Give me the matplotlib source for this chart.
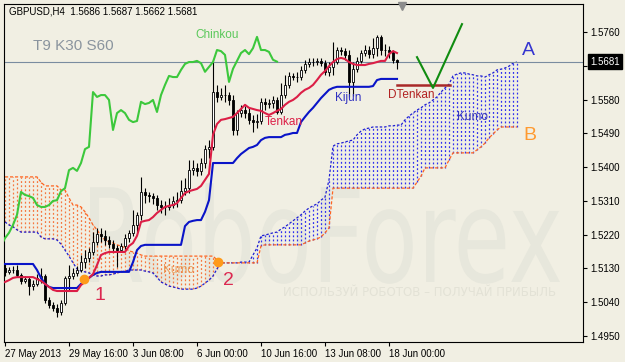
import numpy as np
import matplotlib
matplotlib.use('Agg')
import matplotlib.pyplot as plt
from matplotlib.textpath import TextPath
from matplotlib.patches import PathPatch
from matplotlib.font_manager import FontProperties
from matplotlib.transforms import Affine2D, IdentityTransform, blended_transform_factory

plt.rcParams['font.family'] = ['Liberation Sans', 'DejaVu Sans']

# GBPUSD H4 candles, bar 0 = 27 May 2013 00:00
first_open = 1.5131
closes = [1.5121, 1.5126, 1.5126, 1.5113, 1.5097, 1.5102, 1.5083, 1.5089, 1.5105, 1.5110,
          1.5046, 1.5033, 1.5025, 1.5014, 1.5038, 1.5105, 1.5110, 1.5118, 1.5126, 1.5147,
          1.5158, 1.5174, 1.5201, 1.5222, 1.5217, 1.5206, 1.5195, 1.5185, 1.5179, 1.5190,
          1.5211, 1.5225, 1.5246, 1.5273, 1.5334, 1.5326, 1.5323, 1.5318, 1.5299, 1.5294,
          1.5294, 1.5299, 1.5310, 1.5312, 1.5336, 1.5344, 1.5392, 1.5398, 1.5390, 1.5411,
          1.5448, 1.5454, 1.5600, 1.5587, 1.5592, 1.5592, 1.5579, 1.5499, 1.5544, 1.5552,
          1.5544, 1.5526, 1.5520, 1.5523, 1.5574, 1.5568, 1.5571, 1.5579, 1.5547, 1.5592,
          1.5619, 1.5643, 1.5640, 1.5640, 1.5659, 1.5675, 1.5680, 1.5680, 1.5683, 1.5677,
          1.5654, 1.5667, 1.5680, 1.5712, 1.5709, 1.5699, 1.5627, 1.5662, 1.5683, 1.5704,
          1.5712, 1.5701, 1.5717, 1.5747, 1.5712, 1.5712, 1.5707, 1.5686, 1.5681]
highs = [1.5142, 1.5134, 1.5137, 1.5139, 1.5118, 1.5110, 1.5107, 1.5099, 1.5115, 1.5131,
         1.5115, 1.5054, 1.5041, 1.5035, 1.5046, 1.5110, 1.5139, 1.5131, 1.5137, 1.5166,
         1.5179, 1.5185, 1.5227, 1.5238, 1.5238, 1.5233, 1.5217, 1.5206, 1.5193, 1.5198,
         1.5222, 1.5233, 1.5286, 1.5281, 1.5374, 1.5344, 1.5334, 1.5331, 1.5326, 1.5312,
         1.5310, 1.5318, 1.5323, 1.5334, 1.5366, 1.5371, 1.5419, 1.5419, 1.5411, 1.5424,
         1.5459, 1.5472, 1.5680, 1.5619, 1.5611, 1.5619, 1.5600, 1.5592, 1.5552, 1.5566,
         1.5563, 1.5558, 1.5539, 1.5542, 1.5584, 1.5584, 1.5582, 1.5590, 1.5587, 1.5624,
         1.5646, 1.5653, 1.5651, 1.5653, 1.5669, 1.5685, 1.5691, 1.5691, 1.5691, 1.5691,
         1.5685, 1.5680, 1.5733, 1.5720, 1.5720, 1.5717, 1.5712, 1.5680, 1.5693, 1.5712,
         1.5725, 1.5723, 1.5744, 1.5752, 1.5752, 1.5728, 1.5723, 1.5712, 1.5687]
lows = [1.5110, 1.5115, 1.5118, 1.5107, 1.5089, 1.5091, 1.5059, 1.5073, 1.5083, 1.5091,
        1.5038, 1.5025, 1.5017, 1.5001, 1.5006, 1.5033, 1.5073, 1.5102, 1.5110, 1.5121,
        1.5131, 1.5147, 1.5166, 1.5193, 1.5201, 1.5193, 1.5185, 1.5174, 1.5134, 1.5174,
        1.5182, 1.5201, 1.5217, 1.5227, 1.5259, 1.5304, 1.5307, 1.5302, 1.5286, 1.5278,
        1.5273, 1.5286, 1.5291, 1.5294, 1.5304, 1.5326, 1.5331, 1.5379, 1.5376, 1.5379,
        1.5398, 1.5424, 1.5446, 1.5574, 1.5579, 1.5574, 1.5566, 1.5486, 1.5486, 1.5534,
        1.5531, 1.5515, 1.5494, 1.5504, 1.5515, 1.5552, 1.5558, 1.5558, 1.5542, 1.5542,
        1.5584, 1.5611, 1.5632, 1.5627, 1.5632, 1.5651, 1.5667, 1.5669, 1.5672, 1.5669,
        1.5646, 1.5643, 1.5646, 1.5675, 1.5699, 1.5685, 1.5587, 1.5590, 1.5653, 1.5677,
        1.5696, 1.5691, 1.5691, 1.5696, 1.5699, 1.5696, 1.5691, 1.5677, 1.5662]

tenkan = [1.5094, 1.5099, 1.5105, 1.5107, 1.5107, 1.5107, 1.5107, 1.5107, 1.5102, 1.5097,
          1.5089, 1.5081, 1.5073, 1.5070, 1.5070, 1.5070, 1.5070, 1.5070, 1.5070, 1.5086,
          1.5094, 1.5105, 1.5115, 1.5139, 1.5166, 1.5171, 1.5174, 1.5174, 1.5174, 1.5174,
          1.5174, 1.5190, 1.5198, 1.5217, 1.5254, 1.5257, 1.5259, 1.5267, 1.5278, 1.5286,
          1.5294, 1.5297, 1.5299, 1.5304, 1.5318, 1.5331, 1.5336, 1.5339, 1.5342, 1.5350,
          1.5366, 1.5382, 1.5486, 1.5515, 1.5526, 1.5528, 1.5531, 1.5534, 1.5544, 1.5555,
          1.5566, 1.5558, 1.5555, 1.5552, 1.5550, 1.5544, 1.5539, 1.5544, 1.5550, 1.5555,
          1.5566, 1.5574, 1.5579, 1.5587, 1.5598, 1.5606, 1.5611, 1.5619, 1.5632, 1.5646,
          1.5656, 1.5669, 1.5680, 1.5688, 1.5691, 1.5688, 1.5680, 1.5675, 1.5672, 1.5672,
          1.5672, 1.5675, 1.5677, 1.5680, 1.5683, 1.5683, 1.5701, 1.5709, 1.5704]
kijun = ([1.5142] * 8 + [1.5126, 1.5105, 1.5089, 1.5081] + [1.5078] * 7
         + [1.5089, 1.5099, 1.5105, 1.5113, 1.5118] + [1.5121] * 8 + [1.5147, 1.5179, 1.5190]
         + [1.5193] * 10 + [1.5243, 1.5254, 1.5257, 1.5259, 1.5259, 1.5281, 1.5312] + [1.5411] * 6
         + [1.5424, 1.5435, 1.5443, 1.5451, 1.5454, 1.5459, 1.5472, 1.5478] + [1.5480] * 4
         + [1.5486, 1.5488, 1.5491, 1.5491, 1.5520, 1.5534, 1.5547, 1.5558, 1.5571, 1.5584,
            1.5595, 1.5606, 1.5611] + [1.5614] * 9 + [1.5616, 1.5632] + [1.5635] * 5)

# senkou spans, already shifted 30 bars forward (bars 0..128)
span_a = ([1.5254, 1.5246, 1.5241, 1.5233] + [1.5227] * 5 + [1.5214] + [1.5209] * 3
          + [1.5206, 1.5195, 1.5179, 1.5163, 1.5145, 1.5129, 1.5123, 1.5121, 1.5118, 1.5113,
             1.5110, 1.5110, 1.5113, 1.5113, 1.5115, 1.5118, 1.5121, 1.5123] + [1.5126] * 4
          + [1.5123, 1.5121, 1.5118, 1.5107, 1.5094, 1.5089, 1.5083, 1.5081, 1.5078] + [1.5075] * 4
          + [1.5078, 1.5083, 1.5091, 1.5099, 1.5110, 1.5129] + [1.5145] * 5 + [1.5147] * 3
          + [1.5166, 1.5185, 1.5217, 1.5219, 1.5222, 1.5225, 1.5227, 1.5235, 1.5241, 1.5249,
             1.5257, 1.5265, 1.5273, 1.5283, 1.5291, 1.5297, 1.5302, 1.5312, 1.5320, 1.5366,
             1.5456, 1.5462, 1.5464, 1.5467, 1.5470, 1.5472, 1.5486, 1.5496, 1.5502, 1.5504]
          + [1.5507] * 4 + [1.5510] * 2 + [1.5512] * 2
          + [1.5526, 1.5536, 1.5544, 1.5552, 1.5558, 1.5566, 1.5571, 1.5579, 1.5587, 1.5600,
             1.5611, 1.5621, 1.5643, 1.5648, 1.5651, 1.5651, 1.5648, 1.5646, 1.5643, 1.5643,
             1.5640, 1.5646, 1.5651, 1.5659, 1.5661, 1.5664, 1.5669, 1.5677, 1.5680])
span_b = ([1.5374] * 9 + [1.5360] + [1.5350] * 4 + [1.5339] * 2
          + [1.5318, 1.5299, 1.5299, 1.5294, 1.5281, 1.5265, 1.5246, 1.5233, 1.5217, 1.5206,
             1.5201, 1.5198, 1.5193, 1.5190, 1.5185, 1.5177, 1.5174, 1.5171, 1.5166]
          + [1.5163] * 18 + [1.5153] + [1.5145] * 10 + [1.5190] + [1.5193] * 10
          + [1.5198, 1.5203, 1.5206, 1.5209, 1.5214, 1.5225, 1.5238] + [1.5344] * 21
          + [1.5360, 1.5376] + [1.5398] * 6 + [1.5419] + [1.5438] * 6
          + [1.5446, 1.5454, 1.5464, 1.5478, 1.5488, 1.5499] + [1.5507] * 5)

date_ticks = [0, 16, 32, 48, 64, 80, 96]
date_labels = ['27 May 2013', '29 May 16:00', '3 Jun 08:00', '6 Jun 00:00',
               '10 Jun 16:00', '13 Jun 08:00', '18 Jun 00:00']
price_ticks = [1.4950, 1.5040, 1.5130, 1.5220, 1.5310, 1.5400, 1.5490, 1.5580, 1.5670, 1.5760]
last_price = 1.5681

bg = '#f1efe3'
fig = plt.figure(figsize=(6.25, 3.62), dpi=100, facecolor=bg)
ax = fig.add_axes([4 / 625, 20 / 362, 579 / 625, 338 / 362])
ax.set_facecolor('none')

# watermark
tp = TextPath((0, 0), 'RoboForex', size=100, prop=FontProperties(family='DejaVu Sans'))
ext = tp.get_extents()
tr = Affine2D().translate(-ext.x0, 0).scale(470 / ext.width, 1.3).translate(90, 362 - 282)
fig.add_artist(PathPatch(tr.transform_path(tp), transform=IdentityTransform(),
                         fc='#e7e7dc', ec='none', zorder=-1))
fig.text(283 / 625, 1 - 293 / 362, 'ИСПОЛЬЗУЙ РОБОТОВ – ПОЛУЧАЙ ПРИБЫЛЬ', fontsize=8.5,
         color='#e3e2d6', va='center', zorder=-1, family='DejaVu Sans')

n = len(closes)
x = np.arange(n)
opens = np.array([first_open] + closes[:-1])
closes = np.array(closes)

# cloud: dotted columns, blue where span A is on top, orange where span B is on top
xc = np.arange(len(span_a))
sa = np.array(span_a)
sb = np.array(span_b)
for i in xc:
    if sa[i] >= sb[i]:
        ax.plot([i, i], [sb[i], sa[i]], color='#3030f0', lw=0.9, dashes=(1.5, 1.8), zorder=1)
    else:
        ax.plot([i, i], [sa[i], sb[i]], color='#f57840', lw=0.9, dashes=(1.5, 1.8), zorder=1)
ax.plot(xc, sa, color='#1e1ed2', lw=0.9, ls=(0, (2, 1.5)), zorder=2)
ax.plot(xc, sb, color='#ff6420', lw=0.9, ls=(0, (2.5, 1.5)), zorder=2)

# candles
ax.vlines(x, lows, highs, color='black', lw=0.8, zorder=3)
bull = closes >= opens
body = np.where(np.abs(closes - opens) < 0.00005, 0.00005, closes - opens)
ax.bar(x[bull], body[bull], bottom=opens[bull], width=0.65, color='white',
       edgecolor='black', lw=0.6, zorder=4)
ax.bar(x[~bull], body[~bull], bottom=opens[~bull], width=0.65, color='black',
       edgecolor='black', lw=0.6, zorder=4)

# lines
ax.plot(x - 30, closes, color='#3cc83c', lw=1.5, zorder=5)
ax.plot(x, kijun, color='#0a14c8', lw=1.5, zorder=5)
ax.plot(x, tenkan, color='#dc1e46', lw=1.5, zorder=6)
ax.axhline(last_price, color='#7a8ca0', lw=0.8, zorder=2)

# annotations
ax.plot([19.75, 53.25], [1.5102, 1.5147], 'o', color='#ff9a1a', ms=6, zorder=7)
ax.text(22.5, 1.5059, '1', color='#dc2850', fontsize=14, ha='left', va='center')
ax.text(54.5, 1.5097, '2', color='#dc2850', fontsize=14, ha='left', va='center')
ax.text(129.3, 1.5712, 'A', color='#3535d0', fontsize=14, ha='left', va='center')
ax.text(129.5, 1.5483, 'B', color='#ff9a30', fontsize=14, ha='left', va='center')
ax.plot([98, 111.25], [1.5619, 1.5619], color='#a82828', lw=1.8, zorder=6)
ax.plot([103, 107, 114.25], [1.5693, 1.5611, 1.5781], color='#108c10', lw=1.5, zorder=6)
ax.text(47.5, 1.5752, 'Chinkou', color='#5ac85a', fontsize=8.5, ha='left', va='center')
ax.text(65, 1.5520, 'Tenkan', color='#dc1e46', fontsize=8.5, ha='left', va='center', zorder=7)
ax.text(82.5, 1.5584, 'Kijun', color='#3030c0', fontsize=8.5, ha='left', va='center')
ax.text(95.8, 1.5592, 'DTenkan', color='#b22222', fontsize=8.5, ha='left', va='center')
ax.text(113, 1.5534, 'Kumo', color='#3a3ab8', fontsize=8.5, ha='left', va='center')
ax.text(39.5, 1.5126, 'Kumo', color='#e8a060', fontsize=8.5, ha='left', va='center')
ax.text(7, 1.5722, 'T9 K30 S60', color='#8a949e', fontsize=11, ha='left', va='center')
fig.text(9 / 625, 1 - 12 / 362, 'GBPUSD,H4  1.5686 1.5687 1.5662 1.5681', fontsize=7,
         color='black', va='center')
ax.plot([99.25], [1.5829], marker='v', ms=6, color='#8c8c8c', clip_on=False, zorder=8)

bt = blended_transform_factory(ax.transAxes, ax.transData)
ax.text(1.0121, last_price, '1.5681', transform=bt, color='white', fontsize=7, va='center',
        ha='left', bbox=dict(boxstyle='square,pad=0.25', fc='black', ec='black'),
        clip_on=False, zorder=10)

ax.set_xlim(-0.25, 144.5)
ax.set_ylim(1.49342, 1.58346)
ax.yaxis.tick_right()
ax.set_yticks(price_ticks)
ax.set_yticklabels(['%.4f' % p for p in price_ticks])
ax.set_xticks(date_ticks)
ax.set_xticklabels(date_labels, ha='left')
ax.tick_params(axis='both', length=3, width=0.8, labelsize=7, pad=2, colors='black')
for s in ax.spines.values():
    s.set_color('black')
    s.set_linewidth(0.8)

fig.savefig('out.png', dpi=100, facecolor=bg)
